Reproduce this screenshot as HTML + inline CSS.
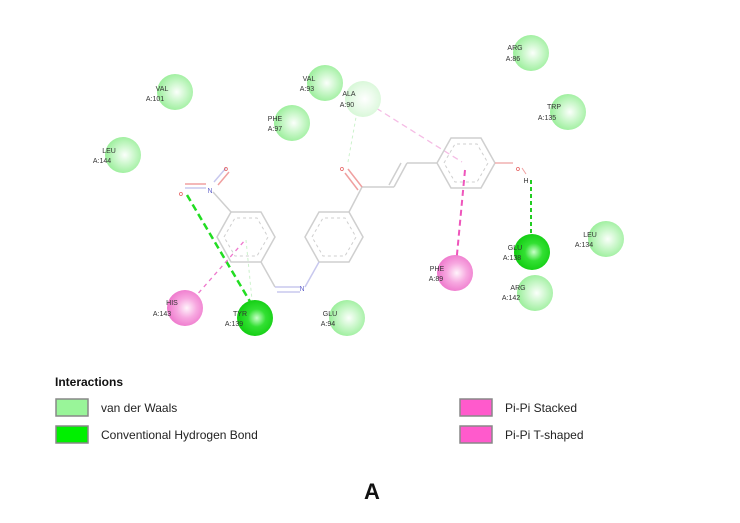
<!DOCTYPE html>
<html><head><meta charset="utf-8"><style>
html,body{margin:0;padding:0;background:#fff;}
svg{display:block;font-family:"Liberation Sans",sans-serif;}
.l{font-size:7px;fill:#333;}
</style></head><body>
<svg width="740" height="523" viewBox="0 0 740 523" xmlns="http://www.w3.org/2000/svg">
<defs>
<radialGradient id="vw" cx="0.55" cy="0.5" r="0.55"><stop offset="0" stop-color="#fbfffb"/><stop offset="0.5" stop-color="#c9f7c9"/><stop offset="1" stop-color="#99ee99"/></radialGradient>
<radialGradient id="vwp" cx="0.55" cy="0.5" r="0.55"><stop offset="0" stop-color="#fff"/><stop offset="1" stop-color="#d6f7d6"/></radialGradient>
<radialGradient id="hb" cx="0.55" cy="0.5" r="0.55"><stop offset="0" stop-color="#c8ffc8"/><stop offset="0.45" stop-color="#33e033"/><stop offset="1" stop-color="#10cc10"/></radialGradient>
<radialGradient id="pk" cx="0.55" cy="0.5" r="0.55"><stop offset="0" stop-color="#fff4fb"/><stop offset="0.5" stop-color="#f7a8e0"/><stop offset="1" stop-color="#ee77cc"/></radialGradient>
</defs>
<!-- interactions -->
<g fill="none">
<line x1="187" y1="195" x2="255" y2="310" stroke="#22dd22" stroke-width="2.5" stroke-dasharray="7,4"/>
<line x1="188" y1="305" x2="246" y2="239" stroke="#ee77cc" stroke-width="1.3" stroke-dasharray="4,4"/>
<line x1="246" y1="240" x2="253" y2="310" stroke="#ccf2cc" stroke-width="1" stroke-dasharray="3,3"/>
<line x1="358" y1="106" x2="348" y2="162" stroke="#ccf2cc" stroke-width="1" stroke-dasharray="3,3"/>
<line x1="368" y1="103" x2="462" y2="162" stroke="#f5bde5" stroke-width="1.3" stroke-dasharray="6,4"/>
<line x1="465" y1="170" x2="456" y2="265" stroke="#ee55bb" stroke-width="2" stroke-dasharray="6,4"/>
<line x1="531" y1="180" x2="531" y2="250" stroke="#22cc22" stroke-width="2" stroke-dasharray="4,3"/>
</g>
<!-- molecule -->
<g fill="none" stroke="#cfcfcf" stroke-width="1.5">
<polygon points="217,237 231,212 261,212 275,237 261,262 231,262"/>
<polygon points="224,237 235,218 257,218 268,237 257,256 235,256" stroke-dasharray="3,3" stroke-width="1"/>
<polygon points="305,237 319,212 349,212 363,237 349,262 319,262"/>
<polygon points="312,237 323,218 345,218 356,237 345,256 323,256" stroke-dasharray="3,3" stroke-width="1"/>
<polygon points="437,163 451,138 481,138 495,163 481,188 451,188"/>
<polygon points="444,163 455,144 477,144 488,163 477,182 455,182" stroke-dasharray="3,3" stroke-width="1"/>
<line x1="231" y1="212" x2="213" y2="192"/>
<line x1="261" y1="262" x2="275" y2="287"/>
<line x1="275" y1="287" x2="300" y2="287" stroke="#c8c8ee"/>
<line x1="277" y1="292" x2="300" y2="292" stroke="#c8c8ee"/>
<line x1="305" y1="287" x2="319" y2="262" stroke="#c8c8ee"/>
<line x1="349" y1="212" x2="362" y2="187"/>
<line x1="362" y1="187" x2="394" y2="187"/>
<line x1="394" y1="187" x2="407" y2="163"/>
<line x1="389" y1="185" x2="401" y2="163"/>
<line x1="407" y1="163" x2="437" y2="163"/>
<line x1="495" y1="163" x2="513" y2="163" stroke="#f0b0b0"/>
<line x1="362" y1="187" x2="348" y2="169" stroke="#f0a0a0"/>
<line x1="358" y1="190" x2="345" y2="173" stroke="#f0a0a0"/>
<line x1="185" y1="184" x2="206" y2="184" stroke="#f0a0a0"/>
<line x1="185" y1="188" x2="206" y2="188" stroke="#c8c8ee"/>
<line x1="214" y1="182" x2="226" y2="168" stroke="#c8c8ee"/>
<line x1="218" y1="185" x2="229" y2="172" stroke="#f0a0a0"/>
<line x1="522" y1="168" x2="526" y2="174" stroke="#f0a0a0" stroke-width="1"/>
</g>
<g font-size="7" text-anchor="middle">
<text x="181" y="196" fill="#dd3333">o</text>
<text x="226" y="171" fill="#dd3333">o</text>
<text x="210" y="193" fill="#6666cc">N</text>
<text x="302" y="291" fill="#6666cc">N</text>
<text x="342" y="171" fill="#dd3333">o</text>
<text x="518" y="171" fill="#dd3333">o</text>
<text x="526" y="183" fill="#333">H</text>
</g>
<!-- residues -->
<g>
<circle cx="175" cy="92" r="18" fill="url(#vw)"/>
<circle cx="123" cy="155" r="18" fill="url(#vw)"/>
<circle cx="325" cy="83" r="18" fill="url(#vw)"/>
<circle cx="292" cy="123" r="18" fill="url(#vw)"/>
<circle cx="363" cy="99" r="18" fill="url(#vwp)"/>
<circle cx="531" cy="53" r="18" fill="url(#vw)"/>
<circle cx="568" cy="112" r="18" fill="url(#vw)"/>
<circle cx="606" cy="239" r="18" fill="url(#vw)"/>
<circle cx="535" cy="293" r="18" fill="url(#vw)"/>
<circle cx="347" cy="318" r="18" fill="url(#vw)"/>
<circle cx="532" cy="252" r="18" fill="url(#hb)"/>
<circle cx="255" cy="318" r="18" fill="url(#hb)"/>
<circle cx="185" cy="308" r="18" fill="url(#pk)"/>
<circle cx="455" cy="273" r="18" fill="url(#pk)"/>
</g>
<g class="l" text-anchor="middle">
<text x="162" y="91">VAL</text><text x="155" y="101">A:101</text>
<text x="109" y="153">LEU</text><text x="102" y="163">A:144</text>
<text x="309" y="81">VAL</text><text x="307" y="91">A:93</text>
<text x="275" y="121">PHE</text><text x="275" y="131">A:97</text>
<text x="349" y="96">ALA</text><text x="347" y="107">A:90</text>
<text x="515" y="50">ARG</text><text x="513" y="61">A:86</text>
<text x="554" y="109">TRP</text><text x="547" y="120">A:135</text>
<text x="590" y="237">LEU</text><text x="584" y="247">A:134</text>
<text x="515" y="250">GLU</text><text x="512" y="260">A:138</text>
<text x="518" y="290">ARG</text><text x="511" y="300">A:142</text>
<text x="437" y="271">PHE</text><text x="436" y="281">A:89</text>
<text x="330" y="316">GLU</text><text x="328" y="326">A:94</text>
<text x="240" y="316">TYR</text><text x="234" y="326">A:139</text>
<text x="172" y="305">HIS</text><text x="162" y="316">A:143</text>
</g>
<!-- legend -->
<text x="55" y="386" font-size="12" font-weight="bold" fill="#111">Interactions</text>
<rect x="56" y="399" width="32" height="17" fill="#99f599" stroke="#888" stroke-width="1.5"/>
<rect x="56" y="426" width="32" height="17" fill="#00f000" stroke="#888" stroke-width="1.5"/>
<rect x="460" y="399" width="32" height="17" fill="#ff5acc" stroke="#888" stroke-width="1.5"/>
<rect x="460" y="426" width="32" height="17" fill="#ff5acc" stroke="#888" stroke-width="1.5"/>
<g font-size="12" fill="#222">
<text x="101" y="412">van der Waals</text>
<text x="101" y="439">Conventional Hydrogen Bond</text>
<text x="505" y="412">Pi-Pi Stacked</text>
<text x="505" y="439">Pi-Pi T-shaped</text>
</g>
<text x="372" y="499" font-size="22" font-weight="bold" text-anchor="middle" fill="#111">A</text>
</svg>
</body></html>
